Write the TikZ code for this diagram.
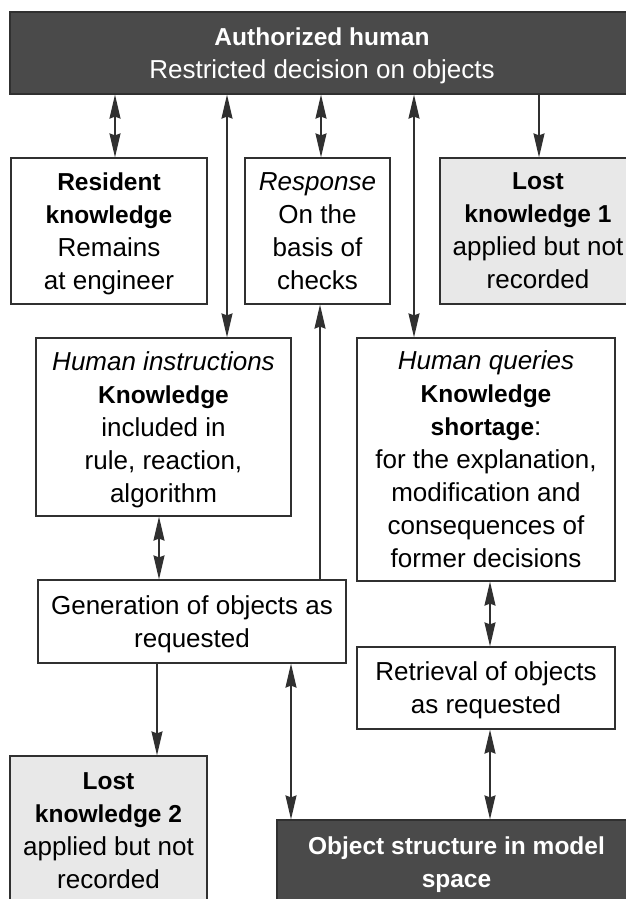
\documentclass[tikz,border=0pt]{standalone}
\usepackage{fontspec}
\setmainfont{Liberation Sans}
\usetikzlibrary{arrows.meta}

\definecolor{lineclr}{HTML}{303030}
\definecolor{darkfill}{HTML}{4A4A4A}
\definecolor{lightfill}{HTML}{E8E8E8}

\newcommand{\bt}{\fontsize{24.5}{33}\selectfont\bfseries}

\begin{document}
\begin{tikzpicture}[x=1pt,y=-1pt,
  box/.style={draw=lineclr, line width=1.2pt, fill=white, inner sep=0pt,
    align=center, font=\fontsize{26}{33}\selectfont, text=black, text depth=-6pt},
  lostbox/.style={box, fill=lightfill},
  darkbox/.style={box, fill=darkfill, text=white},
  tip/.style={line width=1.6pt, draw=lineclr},
  head/.style={Stealth[length=24pt,width=11pt,inset=2pt]},
  dbl/.style={tip, {Stealth[length=24pt,width=11pt,inset=2pt]}-{Stealth[length=24pt,width=11pt,inset=2pt]}},
  sgl/.style={tip, -{Stealth[length=24pt,width=11pt,inset=2pt]}}
]
\useasboundingbox (0,0) rectangle (626,899);
\fill[white] (0,0) rectangle (626,899);

% boxes
\node[darkbox, minimum width=624pt, minimum height=82pt] (top) at (322,53)
  {{\bt Authorized human}\\Restricted decision on objects};

\node[box, minimum width=196pt, minimum height=146pt] (res) at (109,231)
  {{\bt Resident}\\{\bt knowledge}\\Remains\\at engineer};
\node[box, minimum width=145pt, minimum height=146pt] (resp) at (317.5,231)
  {\itshape Response\\On the\\basis of\\checks};
\node[lostbox, minimum width=196pt, minimum height=146pt] (lost1) at (538,231)
  {{\bt Lost}\\{\bt knowledge 1}\\applied but not\\recorded};

\node[box, minimum width=255pt, minimum height=178pt] (hi) at (163.5,427)
  {{\itshape Human instructions}\\{\bt Knowledge}\\included in\\rule, reaction,\\algorithm};
\node[box, minimum width=258pt, minimum height=243pt] (hq) at (486,459.5)
  {{\itshape Human queries}\\{\bt Knowledge}\\{\bt shortage}:\\for the explanation,\\modification and\\consequences of\\former decisions};

\node[box, minimum width=308pt, minimum height=83pt] (gen) at (192,621.5)
  {Generation of objects as\\requested};
\node[box, minimum width=258pt, minimum height=82pt] (ret) at (486,688)
  {Retrieval of objects\\as requested};

\node[lostbox, minimum width=197pt, minimum height=149pt] (lost2) at (108.5,830.5)
  {{\bt Lost}\\{\bt knowledge 2}\\applied but not\\recorded};
\node[darkbox, minimum width=359pt, minimum height=85pt] (obj) at (456.5,862.5)
  {{\bt Object structure in model}\\{\bt space}};

% connectors
\draw[dbl] ([xshift=6pt]res.north |- top.south) -- ([xshift=6pt]res.north);
\draw[dbl] ([xshift=63.5pt]hi.north |- top.south) -- ([xshift=63.5pt]hi.north);
\draw[dbl] ([xshift=3.5pt]resp.north |- top.south) -- ([xshift=3.5pt]resp.north);
\draw[dbl] ([xshift=-72pt]hq.north |- top.south) -- ([xshift=-72pt]hq.north);
\draw[sgl] ([xshift=1pt]lost1.north |- top.south) -- ([xshift=1pt]lost1.north);

\draw[sgl] ([xshift=128pt]gen.north) -- ([xshift=128pt]gen.north |- resp.south);
\draw[dbl] ([xshift=-33pt]gen.north |- hi.south) -- ([xshift=-33pt]gen.north);
\draw[dbl] ([xshift=4pt]ret.north |- hq.south) -- ([xshift=4pt]ret.north);

\draw[sgl] ([xshift=-35pt]gen.south) -- ([xshift=-35pt]gen.south |- lost2.north);
\draw[dbl] ([xshift=99pt]gen.south) -- ([xshift=99pt]gen.south |- obj.north);
\draw[dbl] ([xshift=4pt]ret.south) -- ([xshift=4pt]ret.south |- obj.north);
\end{tikzpicture}
\end{document}
